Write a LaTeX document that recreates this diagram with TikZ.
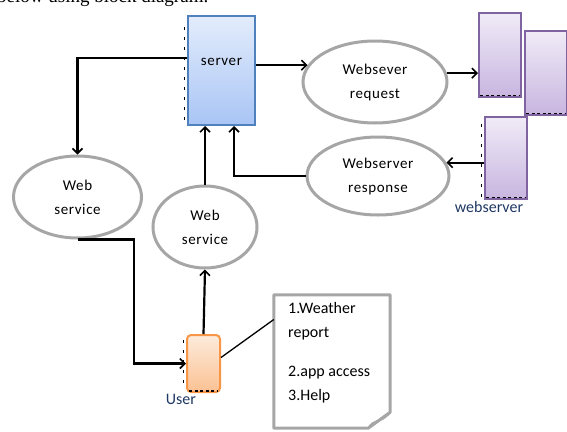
\documentclass[tikz,border=0pt]{standalone}
\usepackage{fontspec}
\setmainfont{Carlito}
\newfontfamily\lblfont[LetterSpace=4]{Carlito}
\newfontfamily\capfont{Liberation Serif}
\usetikzlibrary{arrows.meta,shapes.geometric}

\definecolor{srvline}{HTML}{4F81BD}
\definecolor{srvtop}{HTML}{E3ECFC}
\definecolor{srvbot}{HTML}{A9C5F5}
\definecolor{wsline}{HTML}{8064A2}
\definecolor{wstop}{HTML}{F0EBF7}
\definecolor{wsbot}{HTML}{C8B5E0}
\definecolor{usrline}{HTML}{F79646}
\definecolor{usrtop}{HTML}{FDEBDC}
\definecolor{usrbot}{HTML}{FBC193}
\definecolor{ovalline}{HTML}{A6A6A6}
\definecolor{tagcol}{HTML}{1F3864}

\tikzset{
  conn/.style={line width=2.2pt},
  tip/.style={-{Straight Barb[length=5pt,width=10pt,line width=1.6pt]}},
  oval/.style={ellipse,draw=ovalline,line width=3pt,inner sep=0pt,align=center,
    font=\lblfont\fontsize{15}{24}\selectfont},
  srvbox/.style={draw=srvline,line width=2pt,top color=srvtop,bottom color=srvbot,
    minimum width=67pt,minimum height=109pt},
  wsbox/.style={draw=wsline,line width=2pt,top color=wstop,bottom color=wsbot,
    minimum width=42pt,minimum height=84pt},
  ticks/.style={line width=1.3pt,dash pattern=on 3pt off 7pt},
  fineticks/.style={line width=1.3pt,dash pattern=on 3pt off 2.5pt},
}

\begin{document}
\begin{tikzpicture}[x=1pt,y=-1pt]
  \useasboundingbox (0,0) rectangle (567,431);

  % caption line running off the top
  \node[anchor=base west,inner sep=0pt,font=\capfont\fontsize{19}{22}\selectfont]
    (cap) at (-3,2) {below using block diagram.};

  % server
  \node[srvbox] (server) at (221.5,70.5) {};
  \node[font=\lblfont\fontsize{15}{18}\selectfont] (srvtxt) at (221.5,62) {server};
  \draw[ticks] ([shift={(-2.5pt,-12pt)}]server.north west) -- ([xshift=-2.5pt]server.south west);

  % ovals
  \node[oval,minimum width=128pt,minimum height=82pt] (wsA) at (77.5,197) {Web\\service};
  \node[oval,minimum width=104pt,minimum height=82pt] (wsB) at (205,227) {Web\\service};
  \node[oval,minimum width=144pt,minimum height=82pt] (req) at (375,82) {Websever\\request};
  \node[oval,minimum width=142pt,minimum height=78pt] (resp) at (378,176) {Webserver\\response};

  % webserver boxes
  \node[wsbox] (wsvA) at (500,55) {};
  \node[wsbox] (wsvB) at (546,73) {};
  \node[wsbox,minimum height=82pt] (wsvC) at (506,158) {};
  \draw[fineticks] ([shift={(2pt,2.5pt)}]wsvA.south west) -- ([shift={(-2pt,2.5pt)}]wsvA.south east);
  \draw[fineticks] ([shift={(2pt,2.5pt)}]wsvB.south west) -- ([shift={(-2pt,2.5pt)}]wsvB.south east);
  \draw[ticks] ([shift={(-2.5pt,-8pt)}]wsvC.north west) -- ([xshift=-2.5pt]wsvC.south west);
  \draw[fineticks] ([shift={(2pt,2.5pt)}]wsvC.south west) -- ([shift={(-2pt,2.5pt)}]wsvC.south east);
  \node[font=\fontsize{16}{18}\selectfont,text=tagcol,inner sep=0pt] (wsvtag) at (489,207) {webserver};

  % user
  \node[draw=usrline,line width=2pt,rounded corners=4pt,top color=usrtop,bottom color=usrbot,
    minimum width=33pt,minimum height=57pt] (user) at (203.5,363.5) {};
  \draw[ticks] ([shift={(-2.5pt,-6pt)}]user.north west) -- ([shift={(-2.5pt,4pt)}]user.south west);
  \draw[fineticks] ([shift={(3pt,2pt)}]user.south west) -- ([shift={(-3pt,2pt)}]user.south east);
  \node[font=\fontsize{16}{18}\selectfont,text=tagcol,inner sep=0pt] (usrtag) at (181,399) {User};

  % note
  \node[minimum width=116pt,minimum height=133pt,inner sep=0pt] (note) at (332,361.5) {};
  \draw[ovalline,line width=3pt,line join=round]
    (note.north west) -- (note.north east) -- ([yshift=16pt]note.south east)
    -- ([xshift=-22pt]note.south east) -- (note.south west) -- cycle;
  \draw[ovalline,line width=2pt]
    ([xshift=-22pt]note.south east) .. controls ([shift={(-16pt,10pt)}]note.south east)
    and ([shift={(-10pt,4pt)}]note.south east) .. ([yshift=16pt]note.south east);
  \node[anchor=north west,align=left,inner sep=0pt,font=\fontsize{16}{24}\selectfont]
    (notetxt) at (288,302) {1.Weather\\report\\[15pt]2.app access\\3.Help};

  % connectors
  \draw[conn,tip] ([yshift=12.5pt]server.west) -| (wsA.north);
  \draw[conn,tip] (wsA.south) -| ([xshift=-52pt]user.west) -- (user.west);
  \draw[conn,tip] (user.north) -- (wsB.south);
  \draw[conn,tip] (wsB.north) -- (wsB.north |- server.south);
  \draw[conn,tip] (resp.west) -| ([xshift=12.5pt]server.south);
  \draw[conn,tip] (server.east |- req.166) -- (req.166);
  \draw[conn,tip] (req.7) -- (wsvA.west |- req.7);
  \draw[conn,tip] (wsvC.west |- resp.11) -- (resp.11);
  \draw[line width=1.3pt] ([yshift=6pt]user.east) -- ([yshift=42pt]note.west);
\end{tikzpicture}
\end{document}
